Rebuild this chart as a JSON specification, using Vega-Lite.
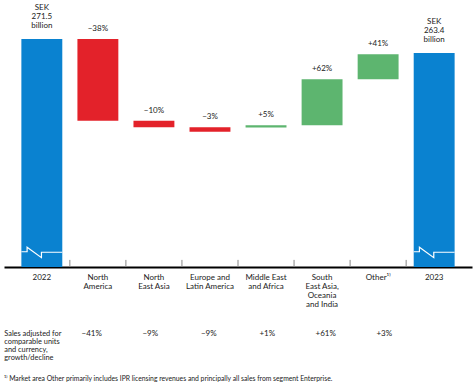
{
  "$schema": "https://vega.github.io/schema/vega-lite/v6.json",
  "padding": {"left": 4, "top": 0, "right": 2, "bottom": 0},
  "config": {
    "view": {"stroke": null},
    "font": "Lato",
    "text": {"font": "Lato", "fontSize": 8, "color": "#222"}
  },
  "datasets": {
    "bars": [
      {"cat": "2022", "kind": "total", "lo": 140, "hi": 271.5, "label": "SEK\n271.5\nbillion", "growth": null},
      {"cat": "North\nAmerica", "kind": "dec", "lo": 224.4, "hi": 271.5, "label": "−38%", "growth": "−41%"},
      {"cat": "North\nEast Asia", "kind": "dec", "lo": 220.6, "hi": 224.4, "label": "−10%", "growth": "−9%"},
      {"cat": "Europe and\nLatin America", "kind": "dec", "lo": 218.0, "hi": 220.6, "label": "−3%", "growth": "−9%"},
      {"cat": "Middle East\nand Africa", "kind": "inc", "lo": 220.4, "hi": 221.7, "label": "+5%", "growth": "+1%"},
      {"cat": "South\nEast Asia,\nOceania\nand India", "kind": "inc", "lo": 221.7, "hi": 248.3, "label": "+62%", "growth": "+61%"},
      {"cat": "Other¹⁾", "kind": "inc", "lo": 248.3, "hi": 262.7, "label": "+41%", "growth": "+3%"},
      {"cat": "2023", "kind": "total", "lo": 140, "hi": 263.4, "label": "SEK\n263.4\nbillion", "growth": null}
    ],
    "breaks": [
      {"bar": "2022", "i": 0, "xq": 0.31, "yv": 148.8},
      {"bar": "2022", "i": 1, "xq": 0.412, "yv": 148.8},
      {"bar": "2022", "i": 2, "xq": 0.412, "yv": 151.4},
      {"bar": "2022", "i": 3, "xq": 0.668, "yv": 145.4},
      {"bar": "2022", "i": 4, "xq": 0.668, "yv": 148.5},
      {"bar": "2022", "i": 5, "xq": 1.04, "yv": 148.5},
      {"bar": "2023", "i": 0, "xq": 7.31, "yv": 148.8},
      {"bar": "2023", "i": 1, "xq": 7.412, "yv": 148.8},
      {"bar": "2023", "i": 2, "xq": 7.412, "yv": 151.4},
      {"bar": "2023", "i": 3, "xq": 7.668, "yv": 145.4},
      {"bar": "2023", "i": 4, "xq": 7.668, "yv": 148.5},
      {"bar": "2023", "i": 5, "xq": 8.04, "yv": 148.5}
    ],
    "ticks": [
      {"xq": 1.175, "y0": 140, "y1": 144.1},
      {"xq": 2.175, "y0": 140, "y1": 144.1},
      {"xq": 3.175, "y0": 140, "y1": 144.1},
      {"xq": 4.175, "y0": 140, "y1": 144.1},
      {"xq": 5.175, "y0": 140, "y1": 144.1},
      {"xq": 6.175, "y0": 140, "y1": 144.1},
      {"xq": 7.175, "y0": 140, "y1": 144.1}
    ]
  },
  "title": {
    "text": "¹⁾ Market area Other primarily includes IPR licensing revenues and principally all sales from segment Enterprise.",
    "orient": "bottom",
    "anchor": "start",
    "font": "Lato",
    "fontSize": 6.8,
    "fontWeight": "normal",
    "color": "#222",
    "offset": 14
  },
  "vconcat": [
    {
      "width": 468,
      "height": 267,
      "layer": [
        {
          "data": {"name": "bars"},
          "layer": [
            {
              "mark": {"type": "bar"},
              "encoding": {
                "x": {
                  "field": "cat", "type": "nominal",
                  "scale": {"domain": ["2022", "North\nAmerica", "North\nEast Asia", "Europe and\nLatin America", "Middle East\nand Africa", "South\nEast Asia,\nOceania\nand India", "Other¹⁾", "2023"], "paddingInner": 0.27, "paddingOuter": 0.31},
                  "axis": {
                    "title": null, "ticks": false, "domainColor": "#000", "domainWidth": 2,
                    "labelAngle": 0, "labelFont": "Lato", "labelFontSize": 8, "labelColor": "#222",
                    "labelPadding": 6, "labelLineHeight": 9.3,
                    "labelExpr": "split(datum.label, '\\n')"
                  }
                },
                "y": {"field": "lo", "type": "quantitative", "scale": {"domain": [140, 294], "nice": false, "zero": false}, "axis": null},
                "y2": {"field": "hi"},
                "color": {"field": "kind", "type": "nominal", "scale": {"domain": ["total", "dec", "inc"], "range": ["#0a82d0", "#e3222a", "#5db56f"]}, "legend": null}
              }
            },
            {
              "transform": [{"filter": "datum.kind != 'total'"}],
              "mark": {"type": "text", "baseline": "bottom", "dy": -6, "fontSize": 8},
              "encoding": {
                "x": {"field": "cat", "type": "nominal"},
                "y": {"field": "hi", "type": "quantitative"},
                "text": {"field": "label"}
              }
            },
            {
              "transform": [{"filter": "datum.kind == 'total'"}],
              "mark": {"type": "text", "baseline": "bottom", "dy": -27, "fontSize": 8, "lineBreak": "\n", "lineHeight": 9.2},
              "encoding": {
                "x": {"field": "cat", "type": "nominal"},
                "y": {"field": "hi", "type": "quantitative"},
                "text": {"field": "label"}
              }
            }
          ]
        },
        {
          "layer": [
            {
              "data": {"name": "breaks"},
              "mark": {"type": "line", "color": "white", "strokeWidth": 1.2},
              "encoding": {
                "x": {"field": "xq", "type": "quantitative", "scale": {"domain": [0, 8.35], "nice": false, "zero": false}, "axis": null},
                "y": {"field": "yv", "type": "quantitative", "scale": {"domain": [140, 294], "nice": false, "zero": false}, "axis": null},
                "detail": {"field": "bar"},
                "order": {"field": "i"}
              }
            },
            {
              "data": {"name": "ticks"},
              "mark": {"type": "rule", "color": "#888", "strokeWidth": 1},
              "encoding": {
                "x": {"field": "xq", "type": "quantitative"},
                "y": {"field": "y0", "type": "quantitative"},
                "y2": {"field": "y1"}
              }
            }
          ]
        }
      ],
      "resolve": {"scale": {"x": "independent"}}
    },
    {
      "width": 468,
      "height": 20,
      "data": {"name": "bars"},
      "layer": [
        {
          "transform": [{"filter": "datum.growth != null"}],
          "mark": {"type": "text", "baseline": "top", "fontSize": 8},
          "encoding": {
            "x": {
              "field": "cat", "type": "nominal",
              "scale": {"domain": ["2022", "North\nAmerica", "North\nEast Asia", "Europe and\nLatin America", "Middle East\nand Africa", "South\nEast Asia,\nOceania\nand India", "Other¹⁾", "2023"], "paddingInner": 0.27, "paddingOuter": 0.31},
              "axis": null
            },
            "text": {"field": "growth"}
          }
        },
        {
          "transform": [{"filter": "datum.cat == '2022'"}],
          "mark": {"type": "text", "baseline": "top", "align": "left", "dx": -29, "fontSize": 7.4, "lineBreak": "\n", "lineHeight": 8.1},
          "encoding": {
            "x": {"field": "cat", "type": "nominal", "bandPosition": 0},
            "text": {"value": "Sales adjusted for\ncomparable units\nand currency,\ngrowth/decline"}
          }
        }
      ]
    }
  ],
  "spacing": 11
}
